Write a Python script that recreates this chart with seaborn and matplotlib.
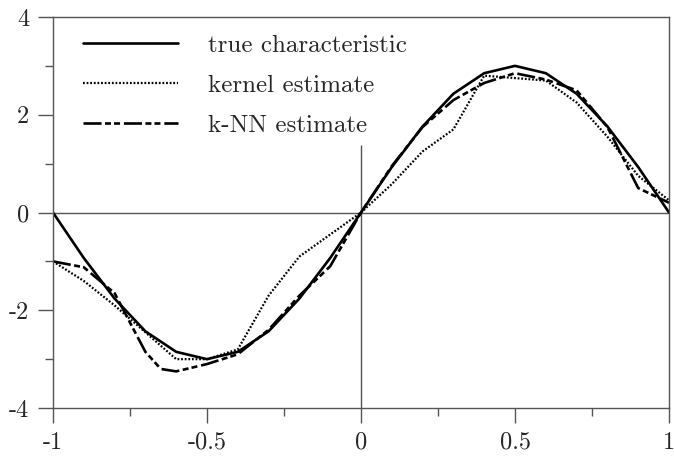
import pandas as pd
import matplotlib
matplotlib.use("Agg")
import matplotlib.pyplot as plt
import seaborn as sns

# grille commune (pas de 0.1)
x_grid = [-1.0, -0.9, -0.8, -0.7, -0.6, -0.5, -0.4, -0.3, -0.2, -0.1, 0.0,
          0.1, 0.2, 0.3, 0.4, 0.5, 0.6, 0.7, 0.8, 0.9, 1.0]

true_vals = [0.0, -0.93, -1.76, -2.43, -2.85, -3.0, -2.85, -2.43, -1.76, -0.93, 0.0,
             0.93, 1.76, 2.43, 2.85, 3.0, 2.85, 2.43, 1.76, 0.93, 0.0]

kernel_vals = [-1.0, -1.4, -1.9, -2.45, -3.0, -3.0, -2.8, -1.7, -0.9, -0.45, 0.0,
               0.58, 1.25, 1.7, 2.8, 2.75, 2.7, 2.25, 1.55, 0.75, 0.25]

knn_x = [-1.0, -0.9, -0.8, -0.7, -0.65, -0.6, -0.5, -0.4, -0.3, -0.2, -0.1, 0.0,
         0.1, 0.2, 0.3, 0.4, 0.5, 0.6, 0.7, 0.8, 0.9, 1.0]
knn_vals = [-1.0, -1.12, -1.65, -2.85, -3.2, -3.25, -3.1, -2.9, -2.4, -1.7, -1.1, 0.0,
            0.95, 1.75, 2.3, 2.65, 2.85, 2.72, 2.5, 1.75, 0.5, 0.2]

labels = ["true characteristic", "kernel estimate", "k-NN estimate"]
x_ticks = [-1, -0.5, 0, 0.5, 1]
x_ticklabels = ["-1", "-0.5", "0", "0.5", "1"]
y_ticks = [-4, -2, 0, 2, 4]
y_ticklabels = ["-4", "-2", "0", "2", "4"]

sns.set_style("white")
plt.rcParams['font.family'] = ['cmr10', 'DejaVu Serif']
plt.rcParams['axes.formatter.use_mathtext'] = True
plt.rcParams['lines.scale_dashes'] = False

fig = plt.figure(figsize=(6.74, 4.59), dpi=100)
ax = fig.add_axes([0.0786, 0.111, 0.914, 0.852])

grey = "#555555"

# lignes de référence
ax.axhline(0, color=grey, lw=1.0, zorder=1)
ax.vlines(0, -4, 1.38, color=grey, lw=1.0, zorder=1)

df_true = pd.DataFrame({"x": x_grid, "y": true_vals})
df_kern = pd.DataFrame({"x": x_grid, "y": kernel_vals})
df_knn = pd.DataFrame({"x": knn_x, "y": knn_vals})

sns.lineplot(data=df_true, x="x", y="y", ax=ax, color="black", lw=1.9,
             estimator=None, sort=False, label=labels[0])
sns.lineplot(data=df_kern, x="x", y="y", ax=ax, color="black", lw=1.6,
             linestyle=(0, (1.3, 1.3)), estimator=None, sort=False, label=labels[1])
sns.lineplot(data=df_knn, x="x", y="y", ax=ax, color="black", lw=1.9,
             linestyle=(0, (13, 2.5, 4.3, 2.2, 4.3, 2.8)),
             estimator=None, sort=False, label=labels[2])

ax.set_xlim(-1, 1)
ax.set_ylim(-4, 4)
ax.set_xlabel("")
ax.set_ylabel("")

ax.set_xticks(x_ticks)
ax.set_xticklabels(x_ticklabels)
ax.set_xticks([-0.75, -0.25, 0.25, 0.75], minor=True)
ax.set_yticks(y_ticks)
ax.set_yticklabels(y_ticklabels)
ax.set_yticks([-3, -1, 1, 3], minor=True)

ax.tick_params(which="major", direction="out", length=11, width=1.0,
               color=grey, labelsize=17.5, pad=6, bottom=True, left=True)
ax.tick_params(which="minor", direction="out", length=6, width=1.0,
               color=grey, bottom=True, left=True)

for sp in ax.spines.values():
    sp.set_color(grey)
    sp.set_linewidth(1.0)

leg = ax.legend(loc="upper left", bbox_to_anchor=(0.0487, 0.955), frameon=False,
                fontsize=18, handlelength=3.8, handletextpad=1.2,
                labelspacing=0.7, borderpad=0, borderaxespad=0)

fig.savefig("out.png", dpi=100)
